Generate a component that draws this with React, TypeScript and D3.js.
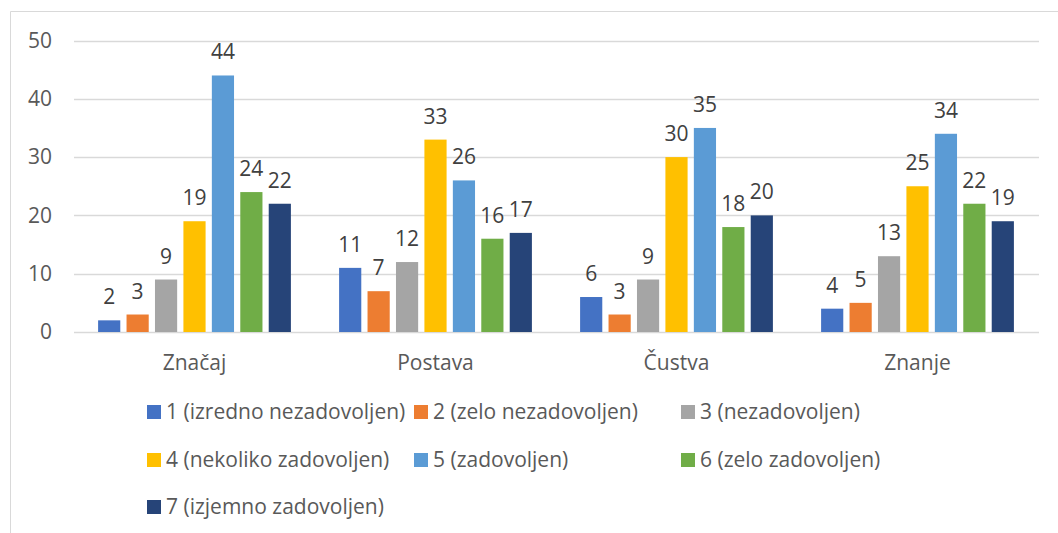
import { useEffect, useRef } from "react";
import * as d3 from "d3";

const categories = ["Značaj", "Postava", "Čustva", "Znanje"];
const seriesNames = [
  "1 (izredno nezadovoljen)",
  "2 (zelo nezadovoljen)",
  "3 (nezadovoljen)",
  "4 (nekoliko zadovoljen)",
  "5 (zadovoljen)",
  "6 (zelo zadovoljen)",
  "7 (izjemno zadovoljen)",
];
// values per series, one per category
const s1 = [2, 11, 6, 4];
const s2 = [3, 7, 3, 5];
const s3 = [9, 12, 9, 13];
const s4 = [19, 33, 30, 25];
const s5 = [44, 26, 35, 34];
const s6 = [24, 16, 18, 22];
const s7 = [22, 17, 20, 19];
const yTicks = [0, 10, 20, 30, 40, 50];
const colors = ["#4472C4", "#ED7D31", "#A5A5A5", "#FFC000", "#5B9BD5", "#70AD47", "#264478"];

const W = 1058;
const H = 533;
const FONT = "'Open Sans', 'Liberation Sans', Arial, sans-serif";
const FS = "21px";

export default function App() {
  const svgRef = useRef<SVGSVGElement>(null);

  useEffect(() => {
    const svg = d3.select(svgRef.current);
    svg.selectAll("*").remove();

    const series = [s1, s2, s3, s4, s5, s6, s7];

    // chart frame (only top and left edges visible)
    svg.append("line").attr("x1", 10.5).attr("x2", W).attr("y1", 11.5).attr("y2", 11.5)
      .attr("stroke", "#d9d9d9");
    svg.append("line").attr("x1", 10.5).attr("x2", 10.5).attr("y1", 11.5).attr("y2", H)
      .attr("stroke", "#d9d9d9");

    const x0 = d3.scaleBand().domain(categories).range([74, 1038]).paddingInner(0.2).paddingOuter(0.1);
    const x1 = d3.scaleBand().domain(seriesNames).range([0, x0.bandwidth()]).paddingInner(0.22);
    const y = d3.scaleLinear().domain([0, 50]).range([332, 40.5]);

    // gridlines
    svg.append("g")
      .selectAll("line")
      .data(yTicks)
      .join("line")
      .attr("x1", 74)
      .attr("x2", 1039)
      .attr("y1", (d) => Math.round(y(d)) + 0.5)
      .attr("y2", (d) => Math.round(y(d)) + 0.5)
      .attr("stroke", "#d9d9d9")
      .attr("stroke-width", 1.3);

    // y tick labels
    svg.append("g")
      .selectAll("text")
      .data(yTicks)
      .join("text")
      .attr("x", 52)
      .attr("y", (d) => y(d))
      .attr("dy", "0.35em")
      .attr("text-anchor", "end")
      .attr("fill", "#595959")
      .style("font-family", FONT)
      .style("font-size", FS)
      .text((d) => d);

    // bars + value labels
    const groups = svg.append("g")
      .selectAll("g")
      .data(categories)
      .join("g")
      .attr("transform", (d) => `translate(${x0(d)},0)`);

    groups.each(function (cat, ci) {
      const g = d3.select(this);
      seriesNames.forEach((name, si) => {
        const v = series[si][ci];
        g.append("rect")
          .attr("x", x1(name)!)
          .attr("y", y(v))
          .attr("width", x1.bandwidth())
          .attr("height", y(0) - y(v))
          .attr("fill", colors[si]);
        g.append("text")
          .attr("x", x1(name)! + x1.bandwidth() / 2)
          .attr("y", y(v) - 16)
          .attr("text-anchor", "middle")
          .attr("fill", "#404040")
          .style("font-family", FONT)
          .style("font-size", FS)
          .text(v);
      });
    });

    // category labels
    svg.append("g")
      .selectAll("text")
      .data(categories)
      .join("text")
      .attr("x", (d) => x0(d)! + x0.bandwidth() / 2)
      .attr("y", 370)
      .attr("text-anchor", "middle")
      .attr("fill", "#595959")
      .style("font-family", FONT)
      .style("font-size", FS)
      .text((d) => d);

    // legend
    const legendCols = [147, 414, 681];
    const legendRows = [412, 460, 507];
    const legend = svg.append("g")
      .selectAll("g")
      .data(seriesNames)
      .join("g")
      .attr("transform", (d, i) => `translate(${legendCols[i % 3]},${legendRows[Math.floor(i / 3)]})`);

    legend.append("rect")
      .attr("x", 0)
      .attr("y", -7)
      .attr("width", 14)
      .attr("height", 14)
      .attr("fill", (d, i) => colors[i]);

    legend.append("text")
      .attr("x", 19)
      .attr("y", 0)
      .attr("dy", "0.35em")
      .attr("fill", "#595959")
      .style("font-family", FONT)
      .style("font-size", FS)
      .text((d) => d);
  }, []);

  return (
    <svg
      ref={svgRef}
      width={W}
      height={H}
      style={{ position: "absolute", left: 0, top: 0, background: "#fff" }}
    ></svg>
  );
}
